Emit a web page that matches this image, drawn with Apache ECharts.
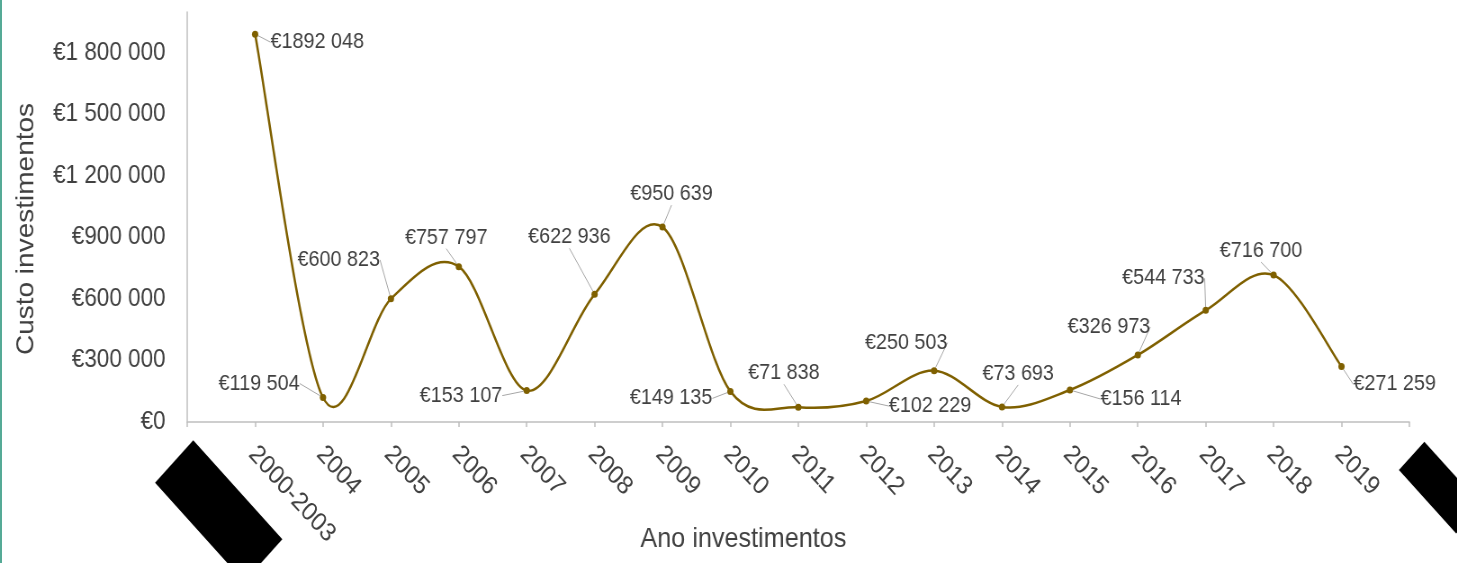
<!DOCTYPE html>
<html>
<head>
<meta charset="utf-8">
<script src="https://cdn.jsdelivr.net/npm/echarts@6/dist/echarts.min.js"></script>
<style>
  html, body { margin: 0; padding: 0; background: #fff; overflow: hidden; }
  #wrap { position: relative; width: 1457px; height: 563px; overflow: hidden; }
  #edge { position: absolute; left: 0; top: 0; width: 2px; height: 563px; background: #55aa96; z-index: 2; }
  /* the source picture is a bit squeezed horizontally, so draw wider and squeeze */
  #main { width: 1619px; height: 563px; transform: scaleX(0.9); transform-origin: 0 0; }
</style>
</head>
<body>
<div id="wrap">
  <div id="edge"></div>
  <div id="main"></div>
</div>
<script>
  // categories (first and last are redacted in the source)
  var years = ['', '2000-2003', '2004', '2005', '2006', '2007', '2008', '2009', '2010',
    '2011', '2012', '2013', '2014', '2015', '2016', '2017', '2018', '2019', ' ']
  // custo por ano, 2000-2003 .. 2019
  var costs = [1892048, 119504, 600823, 757797, 153107, 622936, 950639, 149135, 71838,
    102229, 250503, 73693, 156114, 326973, 544733, 716700, 271259]
  var yTicks = [0, 300000, 600000, 900000, 1200000, 1500000, 1800000]

  // where each data label sits relative to its point (unsqueezed px)
  var labelShift = [[69, 8], [-71, -14], [-58, -39], [-14, -29], [-73, 5], [-28, -57], [10, -33],
    [-66, 7], [-16, -34], [71, 5], [-31, -28], [18, -33], [79, 9], [-32, -28], [-47, -32],
    [-14, -24], [59, 18]]

  var seriesData = [null].concat(costs, [null])
  // one entry per curve piece, from point i to point i+1
  var segments = costs.slice(1).map(function (v, i) { return [i + 1, costs[i]] })

  function grp(v) {
    return String(v).replace(/\B(?=(\d{3})+(?!\d))/g, ' ')
  }
  function euroLabel(v) {
    var k = Math.floor(v / 1000), r = v % 1000
    if (k === 0) return '€' + r
    return '€' + k + ' ' + ('00' + r).slice(-3)
  }

  // excel-like smoothing: catmull-rom handles, capped at half the segment
  function handle(a, b, len) {
    var vx = (b[0] - a[0]) / 6, vy = (b[1] - a[1]) / 6
    var d = Math.sqrt(vx * vx + vy * vy)
    if (d > len / 2 && d > 0) {
      vx = vx * len / 2 / d
      vy = vy * len / 2 / d
    }
    return [vx, vy]
  }

  function renderSegment(params, api) {
    var i = params.dataIndex
    var pt = function (k) {
      k = Math.max(0, Math.min(costs.length - 1, k))
      return api.coord([k + 1, costs[k]])
    }
    var p0 = pt(i - 1), p1 = pt(i), p2 = pt(i + 1), p3 = pt(i + 2)
    var len = Math.sqrt(Math.pow(p2[0] - p1[0], 2) + Math.pow(p2[1] - p1[1], 2))
    var h1 = handle(p0, p2, len)
    var h2 = handle(p1, p3, len)
    return {
      type: 'bezierCurve',
      shape: {
        x1: p1[0], y1: p1[1],
        cpx1: p1[0] + h1[0], cpy1: p1[1] + h1[1],
        cpx2: p2[0] - h2[0], cpy2: p2[1] - h2[1],
        x2: p2[0], y2: p2[1]
      },
      style: { fill: null, stroke: '#7f6000', lineWidth: 2.5 }
    }
  }

  var chart = echarts.init(document.getElementById('main'))
  var txt = '#404040'
  var font = 'Liberation Sans, Arial, sans-serif'

  chart.setOption({
    animation: false,
    textStyle: { fontFamily: font },
    grid: { left: 208, right: 53, top: 12, bottom: 141, containLabel: false, outerBoundsMode: 'none' },
    xAxis: {
      type: 'category',
      data: years,
      boundaryGap: false,
      name: 'Ano investimentos',
      nameLocation: 'middle',
      nameGap: 103,
      nameMoveOverlap: false,
      nameTextStyle: { color: txt, fontSize: 28, fontFamily: font, padding: [0, 122, 0, 0] },
      axisLine: { lineStyle: { color: '#bfbfbf', width: 1.5 } },
      axisTick: { show: true, length: 5, lineStyle: { color: '#bfbfbf', width: 1.5 } },
      axisLabel: {
        interval: 0,
        rotate: -45,
        margin: 25,
        padding: [9, 0, 0, 0],
        color: txt,
        fontSize: 26,
        fontFamily: font,
        formatter: function (v, i) {
          if (i === 0) return '{s| }\n{b| }'
          if (i === years.length - 1) return '{p2| }{b2| }'
          return v
        },
        rich: {
          s: { width: 140, height: 32 },
          b: { width: 140, height: 60, backgroundColor: '#000' },
          p2: { width: 8, height: 40 },
          b2: { width: 90, height: 40, backgroundColor: '#000' }
        }
      }
    },
    yAxis: {
      type: 'value',
      min: 0,
      max: 2000000,
      interval: 300000,
      name: 'Custo investimentos',
      nameLocation: 'middle',
      nameGap: 165,
      nameTextStyle: { color: txt, fontSize: 28, fontFamily: font, padding: [0, 24, 0, 0] },
      splitLine: { show: false },
      axisTick: { show: false },
      axisLine: { show: true, lineStyle: { color: '#bfbfbf', width: 1.5 } },
      axisLabel: {
        margin: 24,
        color: txt,
        fontSize: 25,
        fontFamily: font,
        formatter: function (v) {
          return yTicks.indexOf(v) >= 0 ? '€' + grp(v) : ''
        }
      }
    },
    series: [{
      type: 'custom',
      data: segments,
      renderItem: renderSegment,
      silent: true,
      z: 1
    }, {
      type: 'line',
      data: seriesData,
      symbol: 'circle',
      symbolSize: 7,
      z: 2,
      lineStyle: { opacity: 0 },
      itemStyle: { color: '#7f6000' },
      label: {
        show: true,
        position: 'inside',
        color: txt,
        fontSize: 22,
        fontFamily: font,
        formatter: function (p) { return p.value == null ? '' : euroLabel(p.value) }
      },
      labelLine: { show: true, lineStyle: { color: '#a6a6a6', width: 1 } },
      labelLayout: function (p) {
        var s = labelShift[p.dataIndex - 1]
        if (!s) return {}
        return {
          x: p.rect.x + p.rect.width / 2 + s[0],
          y: p.rect.y + p.rect.height / 2 + s[1],
          align: 'center',
          verticalAlign: 'middle'
        }
      }
    }]
  })
</script>
</body>
</html>
